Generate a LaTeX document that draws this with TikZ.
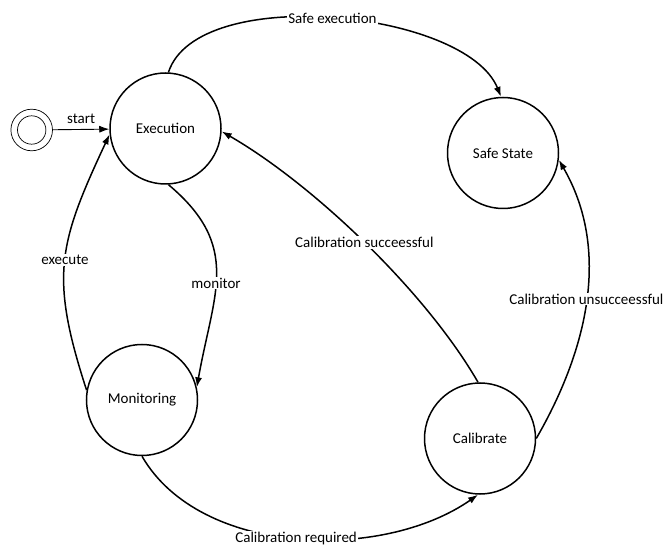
\documentclass[tikz,border=0pt]{standalone}
\usepackage{fontspec}
\setmainfont{Carlito}
\usetikzlibrary{arrows.meta}
\tikzset{
  state/.style={circle, draw, line width=1.5pt, minimum size=111pt, inner sep=0pt, font=\fontsize{15}{18}\selectfont},
  initstate/.style={circle, draw, line width=0.7pt, minimum size=41.6pt, inner sep=0pt},
  initinner/.style={circle, draw, line width=0.7pt, minimum size=28.4pt, inner sep=0pt},
  trans/.style={line width=1.5pt, -{Latex[length=10pt,width=7pt]}},
  lab/.style={fill=white, inner sep=1pt, font=\fontsize{15}{18}\selectfont},
}
\begin{document}
\begin{tikzpicture}[x=1pt, y=1pt]
  \useasboundingbox (0,0) rectangle (667,-545);

  % states
  \node[initstate] (init) at (31.7,-130) {};
  \node[initinner] (initin) at (31.7,-130) {};
  \node[state] (exec) at (165.5,-128.5) {Execution};
  \node[state] (safe) at (503,-153) {Safe State};
  \node[state] (mon) at (142,-400) {Monitoring};
  \node[state] (cal) at (480,-438.5) {Calibrate};

  % transitions
  \draw[trans, line width=0.9pt] (init) -- node[above, font=\fontsize{15}{18}\selectfont, yshift=2pt] {start} (exec);
  \draw[trans] (exec.87) to[out=72, in=112, looseness=0.72] node[lab] {Safe execution} (safe.92);
  \draw[trans] (mon.170) to[out=108, in=245, looseness=1.2] node[lab] {execute} (exec.186);
  \draw[trans] (exec.-87) to[out=-40, in=80, looseness=1.2] node[lab, pos=0.55] {monitor} (mon.13);
  \draw[trans] (mon.-90) to[out=-60, in=215, looseness=0.88] node[lab] {Calibration required} (cal.-92);
  \draw[trans] (cal.92) to[out=120, in=-30, looseness=0.75] node[lab] {Calibration succeessful} (exec.-3);
  \draw[trans] (cal.0) to[out=60, in=-60, looseness=0.95] node[lab, pos=0.5] {Calibration unsucceessful} (safe.-7);
\end{tikzpicture}
\end{document}
